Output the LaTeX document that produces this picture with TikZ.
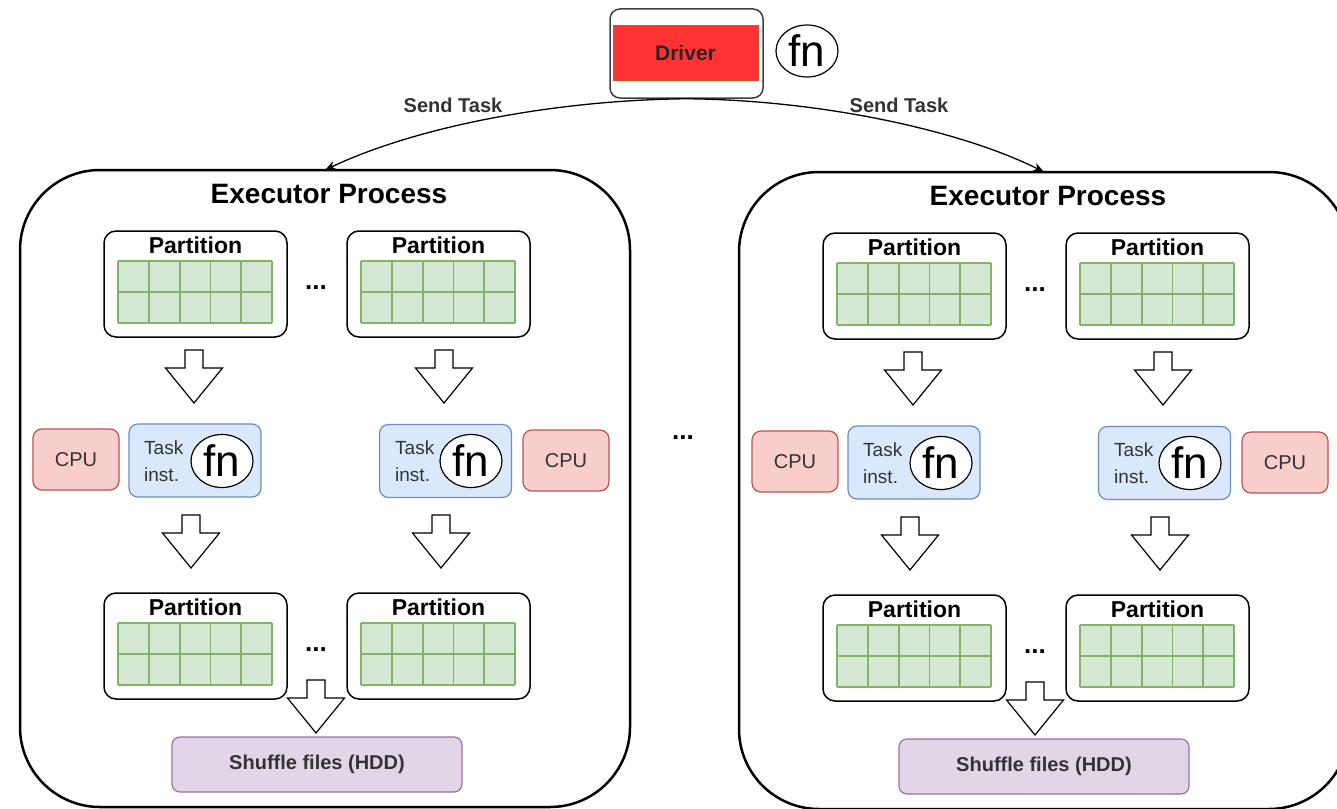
\documentclass[tikz,border=0pt]{standalone}
\usepackage{fontspec}
\setmainfont{Liberation Sans}
\usetikzlibrary{arrows.meta,shapes.geometric}

\definecolor{driverred}{HTML}{FF3333}
\definecolor{cellfill}{HTML}{D5E8D4}
\definecolor{celldraw}{HTML}{82B366}
\definecolor{taskfill}{HTML}{DAE8FC}
\definecolor{taskdraw}{HTML}{6C8EBF}
\definecolor{cpufill}{HTML}{F8CECC}
\definecolor{cpudraw}{HTML}{B85450}
\definecolor{shuffill}{HTML}{E1D5E7}
\definecolor{shufdraw}{HTML}{9673A6}
\definecolor{txtgrey}{HTML}{333333}

\newcommand\fsz[1]{\fontsize{#1}{#1}\selectfont}

\tikzset{
  execbox/.style={draw, line width=2.5pt, rounded corners=80pt, minimum width=610, minimum height=637,
    anchor=north west, inner sep=0pt, outer sep=0pt},
  exectitle/.style={font=\fsz{28}\bfseries, anchor=base, inner sep=0pt},
  partbox/.style={draw, line width=1.5pt, rounded corners=12pt, minimum width=183, minimum height=106,
    anchor=north west, fill=white, inner sep=0pt, outer sep=0pt},
  parttitle/.style={font=\fsz{23}\bfseries, anchor=base, inner sep=0pt},
  cellline/.style={draw=celldraw, line width=1.8pt},
  blockarrow/.style={draw=black, fill=white, line width=1.2pt, line join=miter},
  cpubox/.style={draw=cpudraw, fill=cpufill, line width=1.2pt, rounded corners=9pt,
    minimum width=86, minimum height=61, inner sep=0pt, text=txtgrey, font=\fsz{20}},
  taskbox/.style={draw=taskdraw, fill=taskfill, line width=1.2pt, rounded corners=9pt,
    minimum width=132, minimum height=73, inner sep=0pt},
  tasktext/.style={font=\fontsize{19}{27}\selectfont, align=left, anchor=west, inner sep=0pt, text=txtgrey},
  fnnode/.style={ellipse, draw, fill=white, line width=1.2pt, minimum width=62, minimum height=53,
    inner sep=0pt, font=\fsz{44}},
  shufbox/.style={draw=shufdraw, fill=shuffill, line width=1.2pt, rounded corners=8pt,
    minimum width=290, minimum height=55, inner sep=0pt, text=txtgrey, font=\fsz{20}\bfseries},
  dotsnode/.style={font=\fsz{26}\bfseries, inner sep=0pt},
  sendlabel/.style={font=\fsz{20}\bfseries, text=txtgrey, inner sep=0pt},
  sendarrow/.style={draw=black, line width=1.3pt, -{Stealth[length=11pt,width=9pt]}},
  blockdown/.pic={
    \draw[blockarrow] (-9,0) -- (9,0) -- (9,18) -- (28.5,18) -- (0,53) -- (-28.5,18) -- (-9,18) -- cycle;
  }
}

% A partition box with its 5x2 record grid: name, left x, top y
\newcommand\partbox[3]{%
  \node[partbox] (#1) at (#2,#3) {};
  \node[parttitle] (#1-title) at ({#2+91.5},{#3+22}) {Partition};
  \fill[cellfill] ({#2+14},{#3+30}) rectangle ({#2+168},{#3+92});
  \foreach \i in {0,...,5}
    \draw[cellline] ({#2+14+\i*30.8},{#3+30}) -- ({#2+14+\i*30.8},{#3+92});
  \foreach \j in {0,1,2}
    \draw[cellline] ({#2+14},{#3+30+\j*31}) -- ({#2+168},{#3+30+\j*31});
}

% One executor process: name prefix, x shift, y shift, shuffle-box centre x
\newcommand\execproc[4]{%
  \begin{scope}[shift={(#2,#3)}]
    \node[execbox] (#1) at (20,170) {};
    \node[exectitle] (#1-title) at (329,203) {Executor Process};
    \partbox{#1-p1}{104}{231}
    \partbox{#1-p2}{347}{231}
    \node[dotsnode] (#1-d1) at (316,288) {...};
    \pic at (194,350) {blockdown};
    \pic at (444,350) {blockdown};
    \node[cpubox] (#1-cpu1) at (76,459.5) {CPU};
    \node[taskbox] (#1-t1) at (195,460.5) {};
    \node[tasktext] (#1-t1txt) at (144,461) {Task\\inst.};
    \node[fnnode] (#1-fn1) at (222,461) {fn};
    \node[taskbox] (#1-t2) at (445.5,461) {};
    \node[tasktext] (#1-t2txt) at (395,461) {Task\\inst.};
    \node[fnnode] (#1-fn2) at (471,461) {fn};
    \node[cpubox] (#1-cpu2) at (566,460.5) {CPU};
    \pic at (191,515) {blockdown};
    \pic at (441,515) {blockdown};
    \partbox{#1-p3}{104}{593}
    \partbox{#1-p4}{347}{593}
    \node[dotsnode] (#1-d2) at (316,650) {...};
    \pic at (316,680) {blockdown};
    \node[shufbox] (#1-sh) at (#4,764.5) {Shuffle files (HDD)};
  \end{scope}
}

\begin{document}
\begin{tikzpicture}[x=1pt,y=-1pt]
  \path[use as bounding box] (0,0) rectangle (1337,808);
  \clip (0,0) rectangle (1337,808);
  \fill[white] (0,0) rectangle (1337,808);

  % driver
  \node[draw=black!75, line width=1.5pt, rounded corners=10pt, minimum width=153, minimum height=89,
        inner sep=0pt] (driver) at (686.5,53.5) {};
  \node[fill=driverred, draw=driverred!70!olive, line width=0.6pt, minimum width=145, minimum height=55,
        inner sep=0pt, font=\fsz{21}\bfseries, text=black!85] (drvlabel) at (685.5,52.5) {Driver};
  \node[fnnode, minimum width=62, minimum height=52] (drvfn) at (807,51) {fn};

  % executors
  \execproc{exL}{0}{0}{317}
  \execproc{exR}{719}{2}{325}

  \node[dotsnode] (midDots) at (683,438) {...};

  % task dispatch
  \node[sendlabel] (lblL) at (453,105) {Send Task};
  \node[sendlabel] (lblR) at (899,105) {Send Task};
  \draw[sendarrow] (driver.south) .. controls (560,100) and (420,125) .. (exL.north);
  \draw[sendarrow] (driver.south) .. controls (820,100) and (960,130) .. (exR.north);
\end{tikzpicture}
\end{document}
